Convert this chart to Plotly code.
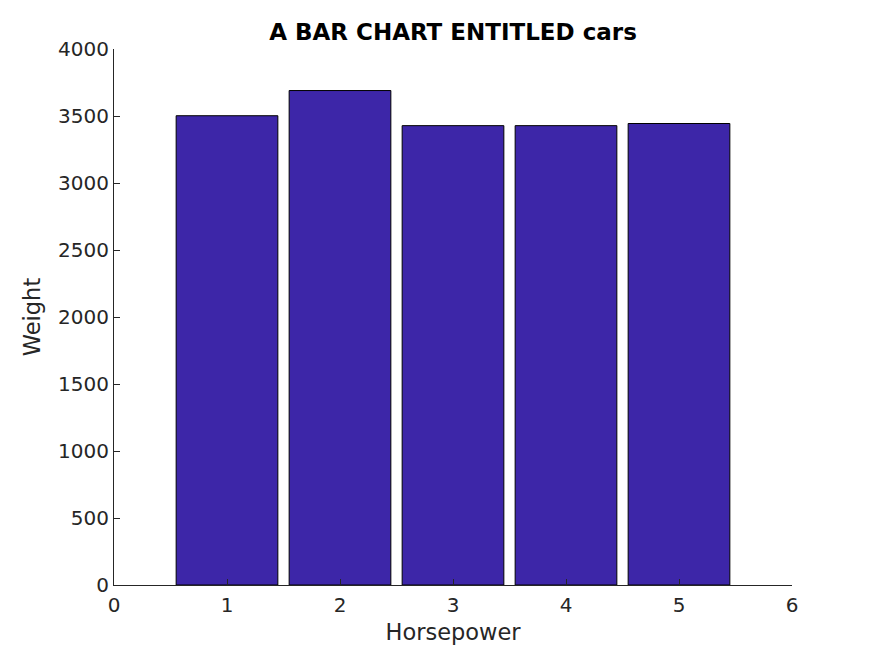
import plotly.graph_objects as go

# values
horsepower = [1, 2, 3, 4, 5]
weight = [3502, 3690, 3428, 3428, 3444]
x_ticks = [0, 1, 2, 3, 4, 5, 6]
y_ticks = [0, 500, 1000, 1500, 2000, 2500, 3000, 3500, 4000]

fig = go.Figure()
fig.add_trace(go.Bar(
    x=horsepower, y=weight, width=0.9,
    marker=dict(color="#3d26a8", line=dict(color="black", width=1)),
))

tick_font = dict(family="DejaVu Sans", size=20, color="#262626")
label_font = dict(family="DejaVu Sans", size=22.5, color="#262626")

fig.update_layout(
    width=875, height=656,
    margin=dict(l=106, r=91, t=41, b=79),
    plot_bgcolor="white", paper_bgcolor="white",
    showlegend=False,
    title=dict(text="<b>A BAR CHART ENTITLED cars</b>", x=(453 - 8) / 875, xanchor="center",
               y=1 - 24 / 656, yanchor="middle",
               font=dict(family="DejaVu Sans", size=23, color="black")),
    xaxis=dict(range=[0, 6], tickvals=x_ticks, showgrid=False, zeroline=False,
               showline=True, linecolor="#262626", linewidth=1,
               ticks="inside", ticklen=6, tickcolor="#262626",
               tickfont=tick_font, ticklabelstandoff=2,
               title=dict(text="Horsepower", font=label_font, standoff=8)),
    yaxis=dict(range=[0, 4000], tickvals=y_ticks, showgrid=False, zeroline=False,
               showline=True, linecolor="#262626", linewidth=1,
               ticks="inside", ticklen=6, tickcolor="#262626",
               tickfont=tick_font,
               title=dict(text="Weight", font=label_font, standoff=11)),
)

fig.write_html("out.html")
